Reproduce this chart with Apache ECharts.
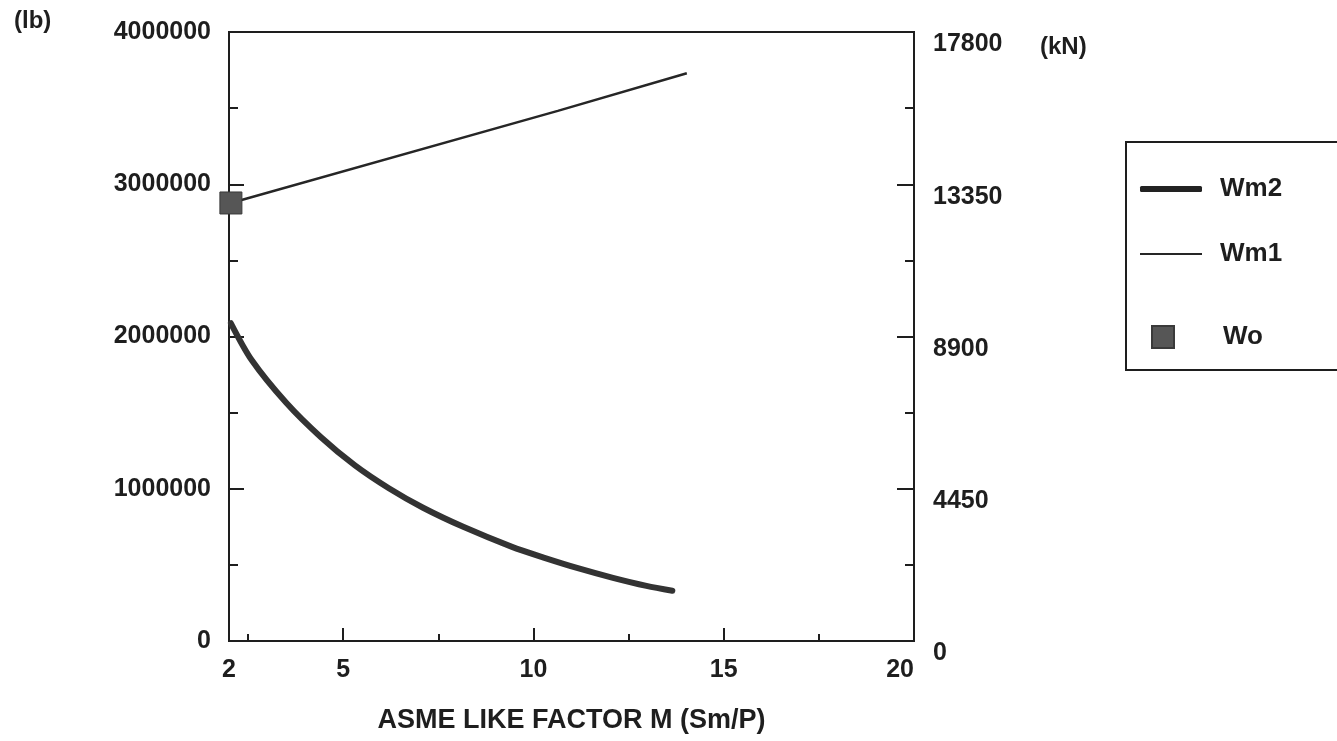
<!DOCTYPE html>
<html>
<head>
<meta charset="utf-8">
<script src="https://cdn.jsdelivr.net/npm/echarts@6/dist/echarts.min.js"></script>
<style>
html,body{margin:0;padding:0;background:#fff;}
#chart{width:1337px;height:741px;}
</style>
</head>
<body>
<div id="chart"></div>
<script>
// ---- data ----
const xLabelValues = [2, 5, 10, 15, 20];
const xMajorTicks = [5, 10, 15, 20];
const xMinorTicks = [2.5, 7.5, 12.5, 17.5];
const leftTickLabels = [0, 1000000, 2000000, 3000000, 4000000];
const rightTickLabels = [0, 4450, 8900, 13350, 17800];

const wm2M  = [2.05, 2.6, 3.51, 4.41, 5.31, 6.2, 7.1, 8.17, 9.42, 10.31, 11.19, 12.09, 12.97, 13.65];
const wm2Lb = [2087000, 1844000, 1563000, 1340000, 1153000, 1003000, 875000, 748000, 620000, 545000, 477000, 415000, 362000, 330000];

const wm1M  = [2.05, 10.64, 14.03];
const wm1Lb = [2877000, 3482000, 3729000];

const woM  = [2.05];
const woLb = [2877000];

const seriesNames = ['Wm2', 'Wm1', 'Wo'];
const xAxisTitle = 'ASME LIKE FACTOR M (Sm/P)';
const leftUnit = '(lb)';
const rightUnit = '(kN)';

// ---- chart ----
const FONT = "'Liberation Sans', Arial, Helvetica, sans-serif";
const INK = '#1e1e1e';
const zip = (a, b) => a.map((v, i) => [v, b[i]]);

const chart = echarts.init(document.getElementById('chart'), null, {renderer: 'canvas'});

const labelStyle = {color: INK, fontFamily: FONT, fontWeight: 'bold', fontSize: 25};

chart.setOption({
  backgroundColor: '#ffffff',
  animation: false,
  grid: {
    left: 229, right: 423, top: 32, bottom: 100,
    show: true, borderColor: INK, borderWidth: 2, backgroundColor: 'transparent'
  },
  xAxis: [
    {
      type: 'value', min: 2, max: 20, position: 'bottom',
      axisLine: {show: true, onZero: false, lineStyle: {color: INK, width: 2}},
      axisTick: {show: true, inside: true, length: 13, lineStyle: {color: INK, width: 2}, customValues: xMajorTicks},
      axisLabel: Object.assign({margin: 17, customValues: xLabelValues, alignMaxLabel: 'right'}, labelStyle),
      splitLine: {show: false},
      name: xAxisTitle, nameLocation: 'middle', nameGap: 66,
      nameTextStyle: {color: INK, fontFamily: FONT, fontWeight: 'bold', fontSize: 27}
    },
    {
      type: 'value', min: 2, max: 20, position: 'bottom',
      axisLine: {show: false},
      axisTick: {show: true, inside: true, length: 7, lineStyle: {color: INK, width: 2}, customValues: xMinorTicks},
      axisLabel: {show: false},
      splitLine: {show: false}
    }
  ],
  yAxis: [
    {
      type: 'value', min: 0, max: 4000000, interval: 1000000, position: 'left',
      axisLine: {show: true, onZero: false, lineStyle: {color: INK, width: 2}},
      axisTick: {show: true, inside: true, length: 15, lineStyle: {color: INK, width: 2}},
      minorTick: {show: true, splitNumber: 2, length: 9, lineStyle: {color: INK, width: 2}},
      axisLabel: Object.assign({margin: 18, customValues: leftTickLabels, formatter: v => String(v)}, labelStyle),
      splitLine: {show: false}, minorSplitLine: {show: false}
    },
    {
      type: 'value', min: 0, max: 17800, interval: 4450, position: 'right',
      axisLine: {show: true, onZero: false, lineStyle: {color: INK, width: 2}},
      axisTick: {show: true, inside: true, length: 17, lineStyle: {color: INK, width: 2}},
      minorTick: {show: true, splitNumber: 2, length: 9, lineStyle: {color: INK, width: 2}},
      axisLabel: Object.assign({margin: 19, customValues: rightTickLabels, formatter: v => String(v), verticalAlign: 'top'}, labelStyle),
      splitLine: {show: false}, minorSplitLine: {show: false}
    }
  ],
  legend: [
    {
      data: [seriesNames[0]], left: 1140, top: 176, orient: 'vertical', padding: 0,
      icon: 'roundRect', itemWidth: 62, itemHeight: 6,
      textStyle: {color: INK, fontFamily: FONT, fontWeight: 'bold', fontSize: 26, padding: [0, 0, 0, 13]},
      selectedMode: false
    },
    {
      data: [seriesNames[1]], left: 1140, top: 241, orient: 'vertical', padding: 0,
      icon: 'rect', itemWidth: 62, itemHeight: 2,
      textStyle: {color: INK, fontFamily: FONT, fontWeight: 'bold', fontSize: 26, padding: [0, 0, 0, 13]},
      selectedMode: false
    },
    {
      data: [seriesNames[2]], left: 1151, top: 324, orient: 'vertical', padding: 0,
      icon: 'rect', itemWidth: 22, itemHeight: 22,
      textStyle: {color: INK, fontFamily: FONT, fontWeight: 'bold', fontSize: 26, padding: [10, 0, 0, 44]},
      selectedMode: false
    }
  ],
  graphic: [
    {type: 'rect', left: 1125, top: 141, shape: {width: 260, height: 228},
     style: {fill: 'transparent', stroke: INK, lineWidth: 2}, silent: true},
    {type: 'text', left: 14, top: 9,
     style: {text: leftUnit, fill: INK, font: "bold 24px 'Liberation Sans', Arial, sans-serif"}},
    {type: 'text', left: 1040, top: 35,
     style: {text: rightUnit, fill: INK, font: "bold 24px 'Liberation Sans', Arial, sans-serif"}}
  ],
  series: [
    {
      name: seriesNames[0], type: 'line', xAxisIndex: 0, yAxisIndex: 0,
      data: zip(wm2M, wm2Lb), smooth: 0.3, showSymbol: false, symbol: 'none',
      lineStyle: {color: '#333333', width: 6, cap: 'round'},
      itemStyle: {color: '#222222'}, z: 3
    },
    {
      name: seriesNames[1], type: 'line', xAxisIndex: 0, yAxisIndex: 0,
      data: zip(wm1M, wm1Lb), smooth: false, showSymbol: false, symbol: 'none',
      lineStyle: {color: '#262626', width: 2.5},
      itemStyle: {color: '#262626'}, z: 3
    },
    {
      name: seriesNames[2], type: 'scatter', xAxisIndex: 0, yAxisIndex: 0,
      data: zip(woM, woLb), symbol: 'rect', symbolSize: 22,
      itemStyle: {color: '#565656', borderColor: '#3a3a3a', borderWidth: 1, opacity: 1}, z: 5
    }
  ]
});
</script>
</body>
</html>
